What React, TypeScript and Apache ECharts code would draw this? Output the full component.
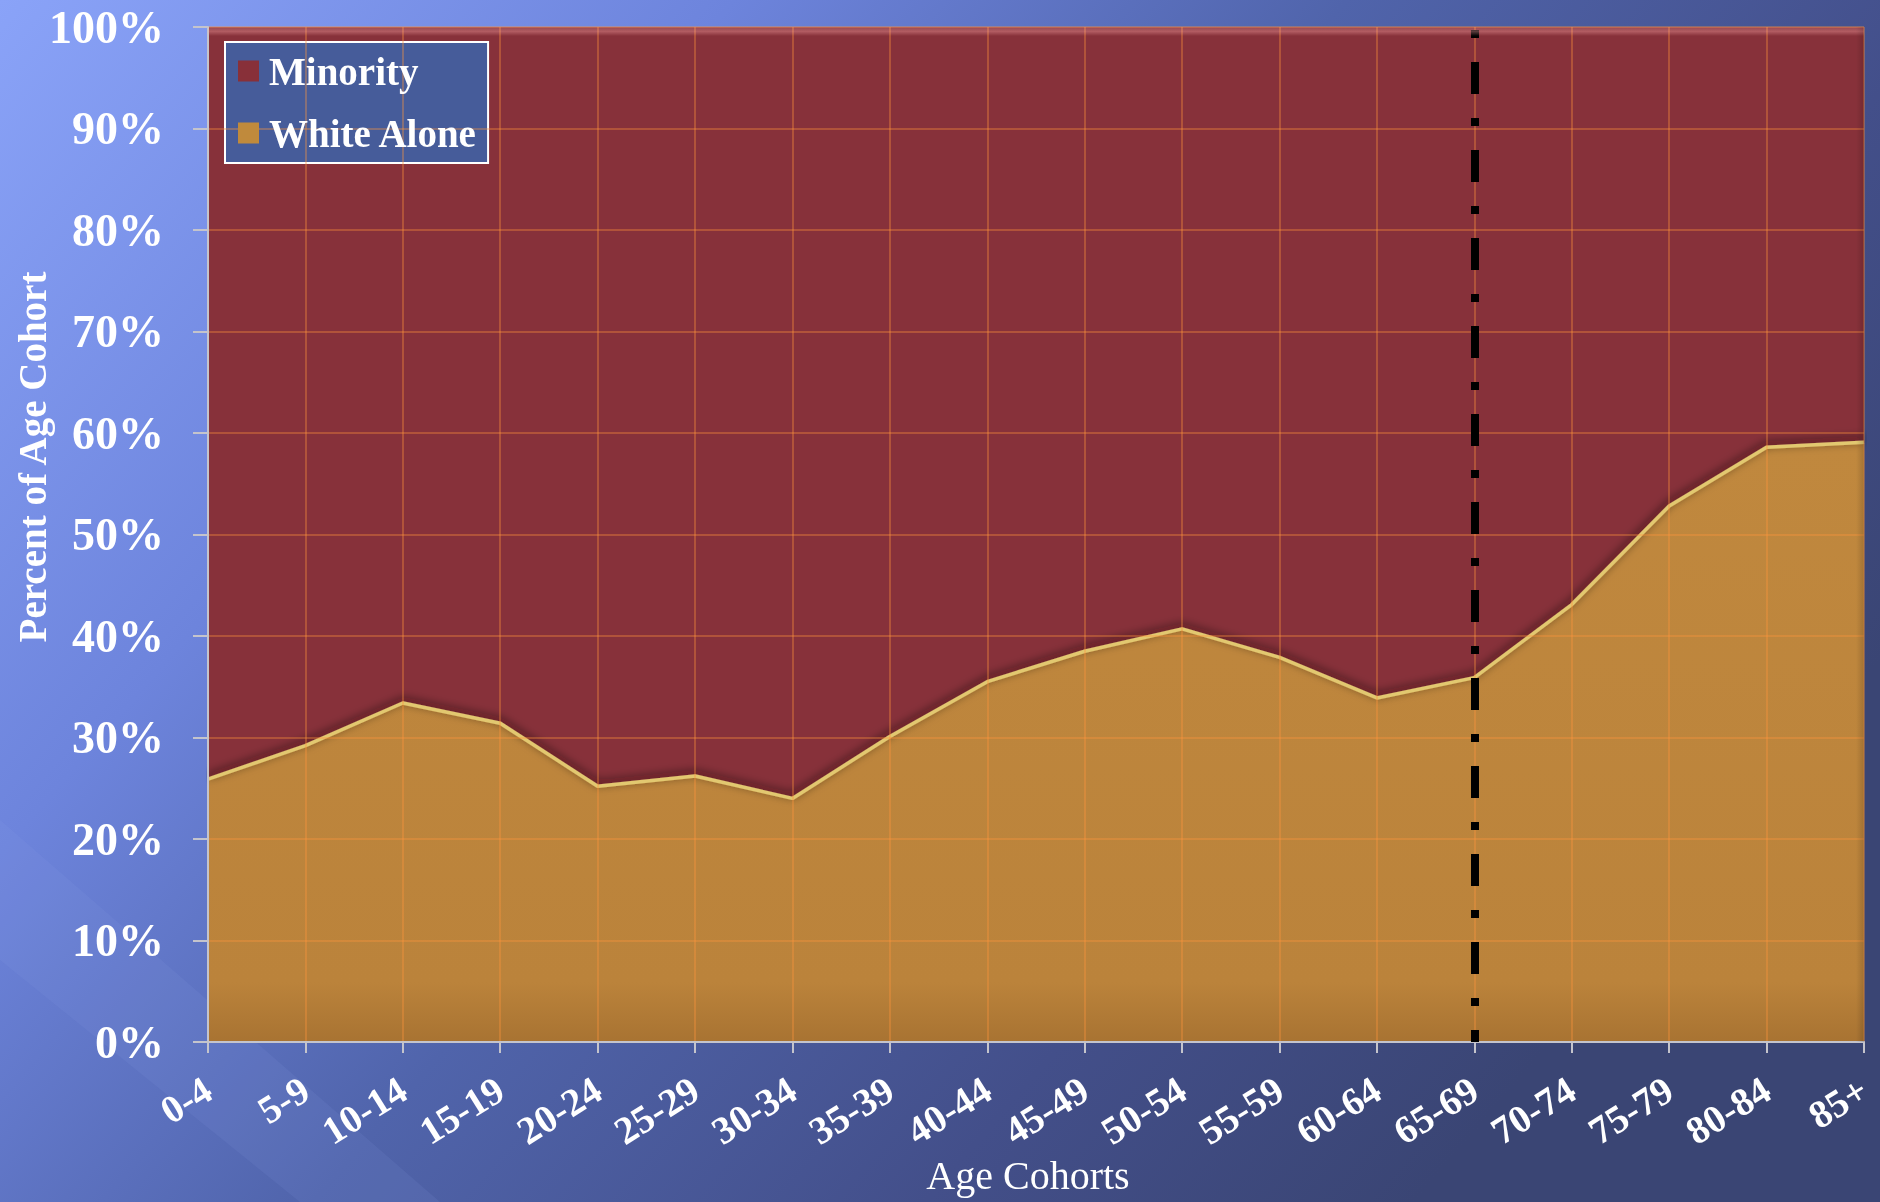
import React, { useEffect, useRef } from "react";
import * as echarts from "echarts";

const categories = ["0-4", "5-9", "10-14", "15-19", "20-24", "25-29", "30-34", "35-39", "40-44", "45-49", "50-54", "55-59", "60-64", "65-69", "70-74", "75-79", "80-84", "85+"];
const whiteAlone = [25.9, 29.2, 33.4, 31.4, 25.2, 26.2, 24.0, 30.1, 35.5, 38.5, 40.7, 37.9, 33.9, 35.9, 43.1, 52.8, 58.6, 59.1];
const minority = [74.1, 70.8, 66.6, 68.6, 74.8, 73.8, 76.0, 69.9, 64.5, 61.5, 59.3, 62.1, 66.1, 64.1, 56.9, 47.2, 41.4, 40.9];
const dividerCategory = "65-69";
const yTicks = { min: 0, max: 100, interval: 10 };

const SERIF = "'Liberation Serif', 'DejaVu Serif', serif";

export default function App() {
  const ref = useRef<HTMLDivElement>(null);
  useEffect(() => {
    if (!ref.current) return;
    const chart = echarts.init(ref.current, undefined, { renderer: "svg" });
    const W = 1880, H = 1202;
    const gridLeft = 208, gridTop = 27, gridRight = 16, gridBottom = 160;
    chart.setOption({
      animation: false,
      graphic: [
        {
          type: "rect",
          z: -10,
          silent: true,
          shape: { x: 0, y: 0, width: W, height: H },
          style: {
            fill: new echarts.graphic.LinearGradient(0, 0, 1, 0.55, [
              { offset: 0, color: "#8aa3f8" },
              { offset: 0.3, color: "#6d84dc" },
              { offset: 0.55, color: "#5064ab" },
              { offset: 0.8, color: "#434f8a" },
              { offset: 1, color: "#3a4574" },
            ]),
          },
        },
        {
          type: "polygon",
          z: -9,
          silent: true,
          shape: { points: [[0, 820], [0, 960], [300, 1202], [440, 1202]] },
          style: { fill: "rgba(150,170,240,0.10)" },
        },
        {
          type: "rect",
          z: 20,
          silent: true,
          shape: { x: gridLeft, y: gridTop, width: W - gridLeft - gridRight, height: 9 },
          style: {
            fill: new echarts.graphic.LinearGradient(0, 0, 0, 1, [
              { offset: 0, color: "rgba(255,190,190,0.15)" },
              { offset: 0.5, color: "rgba(255,170,170,0.35)" },
              { offset: 1, color: "rgba(255,170,170,0)" },
            ]),
          },
        },
        {
          type: "rect",
          z: 20,
          silent: true,
          shape: { x: W - gridRight - 8, y: gridTop, width: 8, height: H - gridTop - gridBottom },
          style: {
            fill: new echarts.graphic.LinearGradient(0, 0, 1, 0, [
              { offset: 0, color: "rgba(0,0,0,0)" },
              { offset: 1, color: "rgba(0,0,0,0.15)" },
            ]),
          },
        },
        {
          type: "text",
          x: 32,
          y: 457,
          rotation: Math.PI / 2,
          silent: true,
          style: {
            text: "Percent of Age Cohort",
            fill: "#ffffff",
            font: `bold 39px ${SERIF}`,
            textAlign: "center",
            textVerticalAlign: "middle",
          },
        },
        {
          type: "text",
          x: 1028,
          y: 1175,
          silent: true,
          style: {
            text: "Age Cohorts",
            fill: "#ffffff",
            font: `40px ${SERIF}`,
            textAlign: "center",
            textVerticalAlign: "middle",
          },
        },
      ],
      legend: {
        orient: "vertical",
        left: 225,
        top: 42,
        padding: [9, 10, 10, 13],
        backgroundColor: "#465c9a",
        borderColor: "#ffffff",
        borderWidth: 2,
        borderRadius: 0,
        itemWidth: 21,
        itemHeight: 21,
        itemGap: 22,
        icon: "rect",
        data: ["Minority", "White Alone"],
        textStyle: { color: "#ffffff", fontFamily: SERIF, fontWeight: "bold", fontSize: 39, lineHeight: 40, padding: [0, 0, 0, 5] },
      },
      grid: { left: gridLeft, right: gridRight, top: gridTop, bottom: gridBottom, containLabel: false },
      xAxis: {
        type: "category",
        data: categories,
        boundaryGap: false,
        z: 4,
        axisLine: { lineStyle: { color: "#c4c4cc", width: 2 } },
        axisTick: { show: true, length: 11, lineStyle: { color: "#c4c4cc", width: 2 } },
        axisLabel: {
          interval: 0,
          rotate: 32,
          margin: 44,
          color: "#ffffff",
          fontFamily: SERIF,
          fontWeight: "bold",
          fontSize: 39,
        },
        splitLine: { show: true, interval: 0, lineStyle: { color: "rgba(255,150,60,0.35)", width: 2 } },
      },
      yAxis: {
        type: "value",
        min: yTicks.min,
        max: yTicks.max,
        interval: yTicks.interval,
        z: 4,
        axisLine: { show: true, lineStyle: { color: "#c4c4cc", width: 2 } },
        axisTick: { show: true, length: 15, lineStyle: { color: "#c4c4cc", width: 2 } },
        axisLabel: {
          formatter: "{value}%",
          margin: 44,
          color: "#ffffff",
          fontFamily: SERIF,
          fontWeight: "bold",
          fontSize: 46,
        },
        splitLine: { show: true, lineStyle: { color: "rgba(255,150,60,0.35)", width: 2 } },
      },
      series: [
        {
          name: "White Alone",
          type: "line",
          stack: "total",
          data: whiteAlone,
          z: 3,
          symbol: "none",
          itemStyle: { color: "#c08a3c" },
          lineStyle: {
            color: "#e2c870",
            width: 3.5,
            shadowColor: "rgba(30,0,0,0.8)",
            shadowBlur: 10,
            shadowOffsetY: -3,
          },
          areaStyle: {
            color: new echarts.graphic.LinearGradient(0, 0, 0, 1, [
              { offset: 0, color: "#c0883e" },
              { offset: 0.9, color: "#bb833b" },
              { offset: 1, color: "#a87332" },
            ]),
            opacity: 1,
          },
          markLine: {
            silent: true,
            symbol: ["none", "none"],
            z: 10,
            label: { show: false },
            lineStyle: { color: "#000000", width: 8, type: [32, 24, 8, 24], dashOffset: 20 },
            data: [{ xAxis: dividerCategory }],
          },
        },
        {
          name: "Minority",
          type: "line",
          stack: "total",
          data: minority,
          z: 2,
          symbol: "none",
          itemStyle: { color: "#883039" },
          lineStyle: { width: 0, color: "#883039" },
          areaStyle: { color: "#87313a", opacity: 1 },
        },
      ],
    });
    return () => chart.dispose();
  }, []);
  return <div ref={ref} style={{ position: "fixed", left: 0, top: 0, width: 1880, height: 1202 }} />;
}
